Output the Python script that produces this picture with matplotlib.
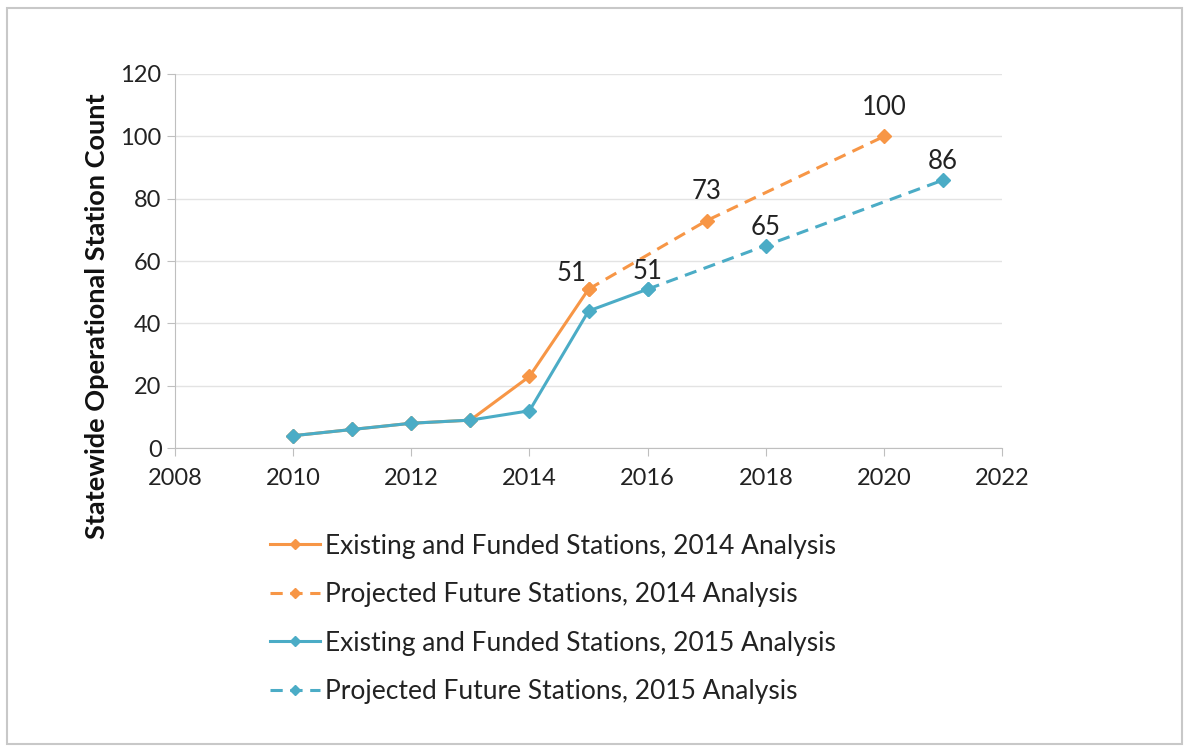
import numpy as np
import matplotlib.pyplot as plt
from matplotlib.patches import Rectangle

plt.rcParams['font.family'] = ['Lato', 'DejaVu Sans']

# data
yrs_exist14 = [2010, 2011, 2012, 2013, 2014, 2015]
cnt_exist14 = [4, 6, 8, 9, 23, 51]
yrs_proj14 = [2015, 2017, 2020]
cnt_proj14 = [51, 73, 100]
yrs_exist15 = [2010, 2011, 2012, 2013, 2014, 2015, 2016]
cnt_exist15 = [4, 6, 8, 9, 12, 44, 51]
yrs_proj15 = [2016, 2018, 2021]
cnt_proj15 = [51, 65, 86]

orange = '#F79646'
blue = '#4BACC6'

fig = plt.figure(figsize=(11.89, 7.52), dpi=100)
ax = fig.add_axes([0.147, 0.404, 0.696, 0.4976])

ax.plot(yrs_exist14, cnt_exist14, '-', color=orange, lw=2.2, marker='D', ms=7,
        label='Existing and Funded Stations, 2014 Analysis')
ax.plot(yrs_proj14, cnt_proj14, '--', color=orange, lw=2.2, marker='D', ms=7,
        dashes=(4, 2.5), label='Projected Future Stations, 2014 Analysis')
ax.plot(yrs_exist15, cnt_exist15, '-', color=blue, lw=2.2, marker='D', ms=7,
        label='Existing and Funded Stations, 2015 Analysis')
ax.plot(yrs_proj15, cnt_proj15, '--', color=blue, lw=2.2, marker='D', ms=7,
        dashes=(4, 2.5), label='Projected Future Stations, 2015 Analysis')

# data labels
lab_kw = dict(textcoords='offset points', ha='center', va='bottom', fontsize=18.5, color='#222222')
for x, y in zip(yrs_proj14[1:], cnt_proj14[1:]):
    ax.annotate(str(y), (x, y), xytext=(0, 12), **lab_kw)
for x, y in zip(yrs_proj15[1:], cnt_proj15[1:]):
    ax.annotate(str(y), (x, y), xytext=(0, 4), **lab_kw)
ax.annotate(str(cnt_proj14[0]), (yrs_proj14[0], cnt_proj14[0]), xytext=(-12, 2), **lab_kw)
ax.annotate(str(cnt_proj15[0]), (yrs_proj15[0], cnt_proj15[0]), xytext=(0, 4), **lab_kw)

ax.set_xlim(2008, 2022)
ax.set_ylim(0, 120)
ax.set_xticks(np.arange(2008, 2023, 2))
ax.set_yticks(np.arange(0, 121, 20))
ax.grid(axis='y', color='#e3e3e3', lw=1)
ax.set_axisbelow(True)
for s in ['top', 'right']:
    ax.spines[s].set_visible(False)
for s in ['left', 'bottom']:
    ax.spines[s].set_color('#bfbfbf')
ax.tick_params(axis='both', colors='#bfbfbf', labelcolor='#222222', labelsize=17, length=6)
ax.tick_params(axis='x', pad=8)
ax.set_ylabel('Statewide Operational Station Count', fontsize=19.5, fontweight='bold',
              color='#111111')
ax.yaxis.set_label_coords(-0.08, 0.353)

fig.legend(loc='upper left', bbox_to_anchor=(0.207, 0.322), frameon=False, fontsize=19,
           handlelength=1.9, handletextpad=0.2, labelspacing=0.89, markerscale=0.7,
           labelcolor='#222222')

# picture frame
fig.patches.append(Rectangle((0.006, 0.01), 0.988, 0.98, transform=fig.transFigure,
                             fill=False, edgecolor='#c8c8c8', lw=1.5))

fig.savefig('out.png', dpi=100)
